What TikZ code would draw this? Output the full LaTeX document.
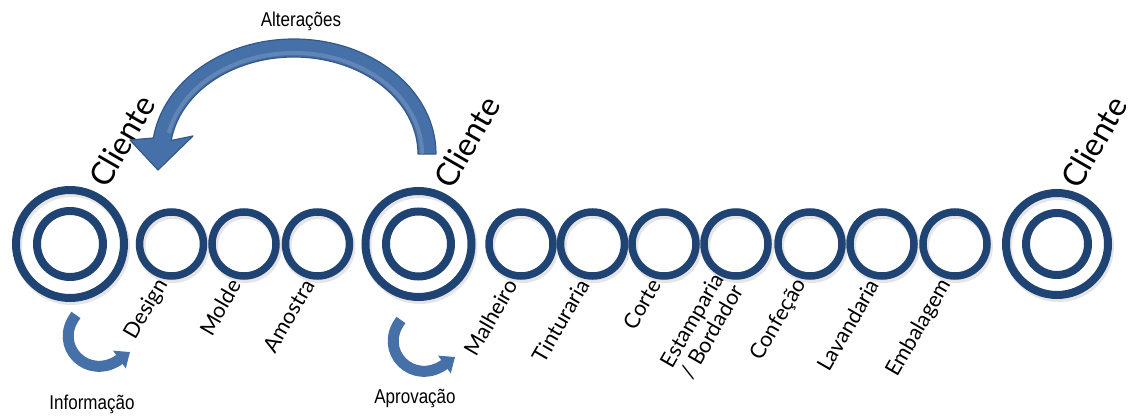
\documentclass[tikz,border=0pt]{standalone}
\usepackage{fontspec}
\setmainfont{Lato}
\newfontfamily\narrowfont[FakeStretch=0.85]{Liberation Sans}
\usetikzlibrary{arrows.meta}
\definecolor{ringblue}{RGB}{31,67,115}
\definecolor{arrowfill}{RGB}{70,112,168}
\definecolor{arrowedge}{RGB}{52,88,138}
\begin{document}
\begin{tikzpicture}[x=1pt,y=1pt,
  ring/.style={circle,draw=ringblue,line width=7.5pt,minimum size=64pt,inner sep=0pt},
  bigring/.style={circle,draw=ringblue,line width=8pt,inner sep=0pt},
  shade ring/.style={circle,draw=black,draw opacity=0.10,line width=9pt,inner sep=0pt},
  steplabel/.style={rotate=60,anchor=east,font=\fontsize{21.5}{23}\selectfont,inner sep=0pt},
  clientlabel/.style={rotate=60,font=\fontsize{32}{36}\selectfont,inner sep=0pt},
  smalllabel/.style={font=\narrowfont\fontsize{20}{24}\selectfont,inner sep=0pt},
  curvedarrow/.style={draw=arrowfill,line width=11pt,-{Triangle[width=21pt,length=13pt]}},
  blockarrow/.style={fill=arrowfill,draw=arrowedge,line width=1.2pt,line join=round}
]
\useasboundingbox (0,0) rectangle (1130,416);

% soft shadows of the rings
\foreach \x in {171.5,244,317.5,521,592.5,664,736,810,882,955}
  \node[shade ring,minimum size=64pt] at (\x+1.5,169.5) {};
\node[shade ring,minimum size=108pt] at (71.5,169.5) {};
\node[shade ring,minimum size=106pt] at (420,169.5) {};
\node[shade ring,minimum size=102pt] at (1058.5,169.5) {};

% client double rings
\node[bigring,minimum size=108pt] (cliA) at (70,172) {};
\node[bigring,minimum size=66pt]  (cliAi) at (70,172) {};
\node[bigring,minimum size=106pt] (cliB) at (418.5,172) {};
\node[bigring,minimum size=65pt]  (cliBi) at (418.5,172) {};
\node[bigring,minimum size=102pt] (cliC) at (1057,172) {};
\node[bigring,minimum size=62pt]  (cliCi) at (1057,172) {};

% process rings
\node[ring] (design) at (171.5,172) {};
\node[ring] (molde) at (244,172) {};
\node[ring] (amostra) at (317.5,172) {};
\node[ring] (malheiro) at (521,172) {};
\node[ring] (tinturaria) at (592.5,172) {};
\node[ring] (corte) at (664,172) {};
\node[ring] (estamparia) at (736,172) {};
\node[ring] (confecao) at (810,172) {};
\node[ring] (lavandaria) at (882,172) {};
\node[ring] (embalagem) at (955,172) {};

% step labels
\node[steplabel] (lDesign) at (163,135) {Design};
\node[steplabel] (lMolde) at (235.5,135) {Molde};
\node[steplabel] (lAmostra) at (309,135) {Amostra};
\node[steplabel] (lMalheiro) at (512,135) {Malheiro};
\node[steplabel] (lTinturaria) at (584,135) {Tinturaria};
\node[steplabel] (lCorte) at (655.5,135) {Corte};
\node[steplabel,align=right] (lEstamparia) at (728,135) {Estamparia\\/ Bordador};
\node[steplabel] (lConfecao) at (801.5,135) {Confeção};
\node[steplabel] (lLavandaria) at (873.5,135) {Lavandaria};
\node[steplabel] (lEmbalagem) at (946.5,135) {Embalagem};

% client labels
\node[clientlabel] (tA) at (122,275) {Cliente};
\node[clientlabel] (tB) at (467,274) {Cliente};
\node[clientlabel] (tC) at (1094,274) {Cliente};

% big curved block arrow (Alterações)
\path[blockarrow] (436,262) arc[start angle=0,end angle=172,x radius=142,y radius=115]
  -- (130,276) -- (158,246) -- (193,280) -- (171.2,275.5)
  arc[start angle=172,end angle=0,x radius=124,y radius=97] -- cycle;
\draw[white,opacity=0.15,line width=4pt] (422,262)
  arc[start angle=0,end angle=168,x radius=128,y radius=101];
\node[smalllabel] (lAlt) at (301,395) {Alterações};

% small curved arrows
\draw[curvedarrow] (76,101) .. controls (52,70) and (88,34) .. (130,64);
\draw[curvedarrow] (401,96) .. controls (377,65) and (413,29) .. (455,59);
\node[smalllabel] (lInfo) at (92,12) {Informação};
\node[smalllabel] (lAprov) at (415,18) {Aprovação};
\end{tikzpicture}
\end{document}
